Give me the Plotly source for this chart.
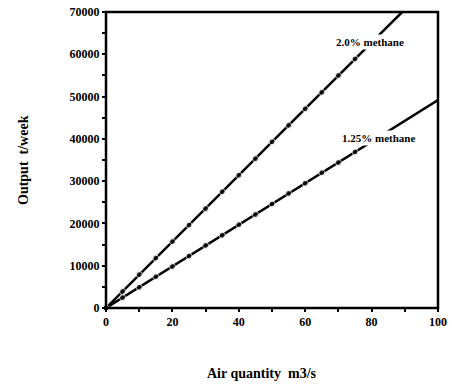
import plotly.graph_objects as go

# Data
air_quantity = [0, 5, 10, 15, 20, 25, 30, 35, 40, 45, 50, 55, 60, 65, 70, 75]
output_2_0 = [0, 3900, 7900, 11800, 15700, 19600, 23500, 27500, 31400, 35300,
              39300, 43200, 47100, 51000, 55000, 58900]
output_1_25 = [0, 2460, 4900, 7400, 9800, 12300, 14800, 17200, 19700, 22100,
               24600, 27100, 29500, 32000, 34400, 36900]
# line end points (no marker)
end_2_0 = (89.2, 70000)
end_1_25 = (100, 49200)

labels = ["2.0% methane", "1.25% methane"]
label_pos = [(79.6, 62900), (82.2, 40200)]

x_ticks = [0, 20, 40, 60, 80, 100]
y_ticks = [0, 10000, 20000, 30000, 40000, 50000, 60000, 70000]

FONT = "Liberation Serif"

fig = go.Figure()
for xs, ys, end in [(air_quantity, output_2_0, end_2_0),
                    (air_quantity, output_1_25, end_1_25)]:
    fig.add_trace(go.Scatter(
        x=list(xs) + [end[0]], y=list(ys) + [end[1]],
        mode="lines+markers",
        line=dict(color="black", width=2.5),
        marker=dict(color="black", size=[6] * len(xs) + [0], symbol="circle"),
        showlegend=False, cliponaxis=False,
    ))

for text, (lx, ly) in zip(labels, label_pos):
    fig.add_annotation(x=lx, y=ly, text="<b>" + text + "</b>", showarrow=False,
                       font=dict(family=FONT, size=11, color="black"),
                       bgcolor="white", borderpad=1)

fig.add_annotation(xref="paper", yref="paper", x=-0.25, y=0.5,
                   text="<b>Output  t/week</b>", textangle=-90, showarrow=False,
                   font=dict(family=FONT, size=14, color="black"),
                   xanchor="center", yanchor="middle")
fig.add_annotation(xref="paper", yref="paper", x=0.47, y=-0.22,
                   text="<b>Air quantity  m3/s</b>", showarrow=False,
                   font=dict(family=FONT, size=14, color="black"),
                   xanchor="center", yanchor="middle")

fig.add_shape(type="rect", xref="x domain", yref="y domain", x0=0, x1=1, y0=0, y1=1,
              line=dict(color="black", width=2.5), layer="above")

axis_common = dict(showline=False,
                   ticks="outside", ticklen=3, tickwidth=2, tickcolor="black",
                   showgrid=False, zeroline=False, automargin=False,
                   tickfont=dict(family=FONT, size=12, color="black"))
fig.update_xaxes(range=[0, 100], tickvals=x_ticks,
                 ticktext=["<b>%d</b>" % v for v in x_ticks],
                 minor=dict(dtick=10, ticklen=3, tickwidth=2, tickcolor="black", ticks="outside"),
                 **axis_common)
fig.update_yaxes(range=[0, 70000], tickvals=y_ticks,
                 ticktext=["<b>%d</b>" % v for v in y_ticks],
                 minor=dict(dtick=5000, ticklen=3, tickwidth=2, tickcolor="black", ticks="outside"),
                 **axis_common)

fig.update_layout(width=452, height=388,
                  margin=dict(l=106, r=14, t=12, b=80),
                  plot_bgcolor="white", paper_bgcolor="white")
fig.write_html("out.html", config={"displayModeBar": False},
               post_script="document.body.style.margin='0';document.body.style.overflow='hidden';document.documentElement.style.overflow='hidden';")
